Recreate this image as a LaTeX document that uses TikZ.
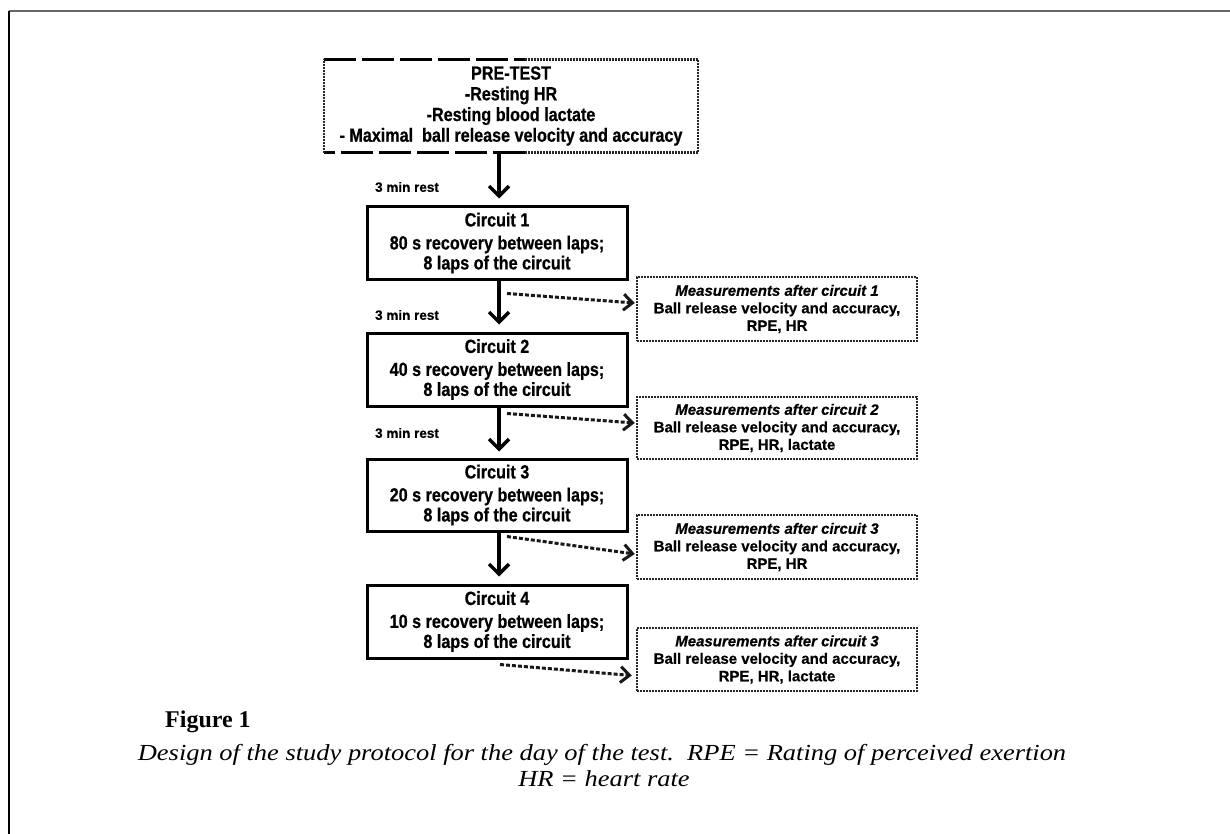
\documentclass[tikz,border=0pt]{standalone}
\usepackage{fontspec}
\usetikzlibrary{arrows.meta,calc}
\newfontfamily\boxfont[FakeStretch=0.85,FakeBold=0.6]{Liberation Sans}
\newfontfamily\measfont[FakeBold=0.5]{Liberation Sans}
\newfontfamily\capfont[FakeStretch=1.15]{Liberation Serif}
\newfontfamily\figfont{Liberation Serif}
\begin{document}
\begin{tikzpicture}[x=1pt,y=-1pt,
  circ/.style={draw, line width=3pt, minimum width=260pt, minimum height=72pt, inner sep=0pt, align=center,
    font=\boxfont\bfseries\fontsize{19}{20}\selectfont},
  prebox/.style={minimum width=374pt, minimum height=93pt, inner sep=0pt, align=center,
    font=\boxfont\bfseries\fontsize{19}{20.7}\selectfont},
  meas/.style={draw=black!85, line width=2.5pt, dash pattern=on 2pt off 1pt, minimum width=280pt, minimum height=63pt,
    inner sep=0pt, align=center, font=\measfont\bfseries\fontsize{15}{17.5}\selectfont},
  restlbl/.style={font=\measfont\bfseries\fontsize{13.5}{15}\selectfont, inner sep=0pt},
  mainarrow/.style={line width=3.5pt, -{Straight Barb[length=10pt,width=20pt,line width=3.5pt]}},
  dotarrow/.style={draw=black!90, line width=3pt, dash pattern=on 4pt off 2pt, -{Straight Barb[length=9pt,width=16pt,line width=3pt]}},
  dashpre/.style={line width=2.5pt, dash pattern=on 32pt off 6pt},
  dotpre/.style={line width=2.5pt, draw=black!85, dash pattern=on 2pt off 1pt},
  capstyle/.style={font=\capfont\itshape\fontsize{23}{27}\selectfont, inner sep=0pt}
  ]
\useasboundingbox (0,0) rectangle (1230,834);
\fill[white] (0,0) rectangle (1230,834);
% frame
\draw[line width=2pt, black!60] (9,11) -- (1230,11);
\draw[line width=2pt, black] (9,11) -- (9,834);

% pre-test
\node[prebox] (pre) at (511,106) {PRE-TEST\\-Resting HR\\-Resting blood lactate\\- Maximal\ \ ball release velocity and accuracy};
\draw[dashpre] (pre.north west) -- ($(pre.north west)+(201,0)$);
\draw[dotpre] ($(pre.north west)+(201,0)$) -- (pre.north east) -- (pre.south east) -- ($(pre.south west)+(201,0)$);
\draw[dashpre] ($(pre.south west)+(201,0)$) -- (pre.south west);
\draw[dotpre] (pre.south west) -- (pre.north west);

% circuits
\node[circ] (c1) at (497,243) {Circuit 1\\[3pt]80 s recovery between laps;\\8 laps of the circuit};
\node[circ, minimum height=73pt] (c2) at (497,369.5) {Circuit 2\\[3pt]40 s recovery between laps;\\8 laps of the circuit};
\node[circ] (c3) at (497,495) {Circuit 3\\[3pt]20 s recovery between laps;\\8 laps of the circuit};
\node[circ, minimum height=73pt] (c4) at (497,621.5) {Circuit 4\\[3pt]10 s recovery between laps;\\8 laps of the circuit};

% measurements
\node[meas, minimum height=64pt] (m1) at (777,309) {\itshape Measurements after circuit 1\\Ball release velocity and accuracy,\\RPE, HR};
\node[meas, minimum height=62pt] (m2) at (777,428) {\itshape Measurements after circuit 2\\Ball release velocity and accuracy,\\RPE, HR, lactate};
\node[meas, minimum height=64pt] (m3) at (777,547) {\itshape Measurements after circuit 3\\Ball release velocity and accuracy,\\RPE, HR};
\node[meas, minimum height=63pt] (m4) at (777,659.5) {\itshape Measurements after circuit 3\\Ball release velocity and accuracy,\\RPE, HR, lactate};

% rest labels
\node[restlbl] (r1) at (407,187) {3 min rest};
\node[restlbl] (r2) at (407,315) {3 min rest};
\node[restlbl] (r3) at (407,433) {3 min rest};

% main arrows
\draw[mainarrow] ($(pre.south -| c1.north)+(2,0)$) -- ($(c1.north)+(2,-7)$);
\draw[mainarrow] ($(c1.south)+(2,0)$) -- ($(c2.north)+(2,-7)$);
\draw[mainarrow] ($(c2.south)+(2,0)$) -- ($(c3.north)+(2,-6)$);
\draw[mainarrow] ($(c3.south)+(2,0)$) -- ($(c4.north)+(2,-7)$);

% dotted arrows
\draw[dotarrow] ($(c1.south)+(10,13)$) -- ($(m1.west)+(-1,-6)$);
\draw[dotarrow] ($(c2.south)+(10,6)$) -- ($(m2.west)+(-1,-5)$);
\draw[dotarrow] ($(c3.south)+(10,4)$) -- ($(m3.west)+(-1,7)$);
\draw[dotarrow] ($(c4.south)+(3,5)$) -- ($(m4.west)+(-4,16)$);

% caption
\node[anchor=west, font=\figfont\bfseries\fontsize{24}{28}\selectfont, inner sep=0pt] (fig) at (165,722) {Figure 1};
\node[capstyle] (cap1) at (602,755) {Design of the study protocol for the day of the test.\ \ RPE = Rating of perceived exertion};
\node[capstyle] (cap2) at (604,779) {HR = heart rate};
\end{tikzpicture}
\end{document}
